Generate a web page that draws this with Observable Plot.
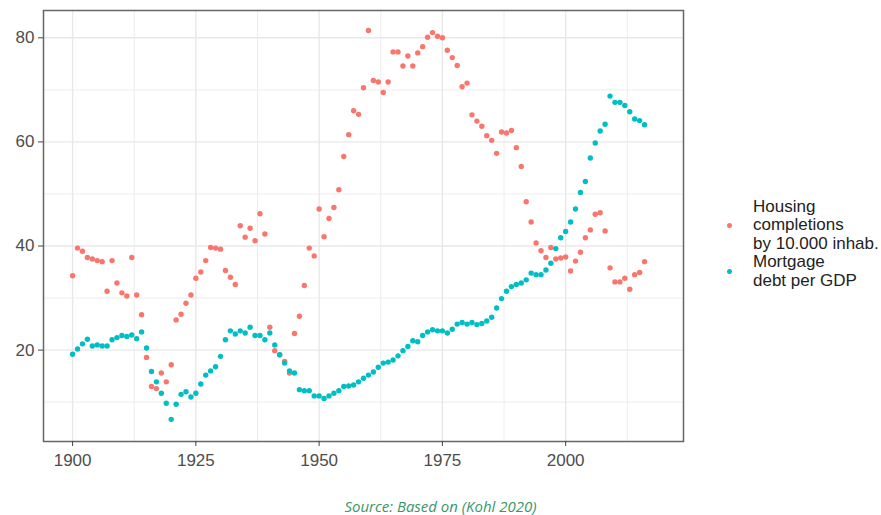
<!DOCTYPE html>
<html>
<head>
<meta charset="utf-8">
<script src="https://cdn.jsdelivr.net/npm/d3@7"></script>
<script src="https://cdn.jsdelivr.net/npm/@observablehq/plot@0.6"></script>
<style>
  html, body { margin: 0; padding: 0; background: #fff; }
  #wrap { position: relative; width: 881px; height: 515px; overflow: hidden; }
  #caption { position: absolute; left: 0; top: 498px; width: 881px; height: 17px; line-height: 17px;
    text-align: center; font-family: "Open Sans", Lato, sans-serif; font-style: italic; font-size: 15px; color: #3a9668; }
  .lg { position: absolute; font-family: "Liberation Sans", Arial, sans-serif; font-size: 17px; color: #222; line-height: 18.5px; white-space: nowrap; }
  .dot { position: absolute; width: 5.4px; height: 5.4px; border-radius: 50%; }
</style>
</head>
<body>
<div id="wrap">
  <div id="chart"></div>
  <div class="dot" style="left:726.6px; top:223px; background:#F8766D"></div>
  <div class="dot" style="left:726.6px; top:269px; background:#00BFC4"></div>
  <div class="lg" style="left:753px; top:197.5px">Housing<br>completions<br>by 10.000 inhab.<br>Mortgage<br>debt per GDP</div>
  <div id="caption">Source: Based on (Kohl 2020)</div>
</div>
<script>
const years = d3.range(1900, 2017);
const housing = [
  34.3, 39.6, 39.0, 37.8, 37.5, 37.2, 37.0, 31.3, 37.2, 32.9,
  31.0, 30.4, 37.8, 30.6, 26.8, 18.6, 13.0, 12.6, 15.6, 13.9,
  17.2, 25.8, 26.9, 29.0, 30.6, 33.8, 35.0, 37.2, 39.7, 39.6,
  39.4, 35.3, 34.0, 32.6, 43.9, 41.7, 43.4, 41.0, 46.2, 42.3,
  24.4, 19.9, 19.1, 17.8, 15.6, 23.2, 26.5, 32.4, 39.6, 38.1,
  47.1, 41.8, 45.3, 47.4, 50.8, 57.2, 61.4, 66.0, 65.3, 70.4,
  81.4, 71.8, 71.5, 69.5, 71.5, 77.3, 77.3, 74.6, 76.5, 74.6,
  77.1, 78.3, 80.1, 81.0, 80.3, 80.0, 77.6, 76.2, 74.7, 70.6,
  71.3, 65.2, 64.0, 63.0, 61.2, 60.3, 57.8, 61.9, 61.7, 62.2,
  58.9, 55.3, 48.5, 44.6, 40.6, 39.1, 37.8, 39.7, 37.5, 37.7,
  37.9, 35.2, 37.1, 38.8, 41.6, 43.1, 46.1, 46.4, 42.9, 35.8,
  33.1, 33.1, 33.8, 31.7, 34.5, 34.9, 37.0
];
const mortgage = [
  19.2, 20.2, 21.2, 22.1, 20.8, 21.0, 20.8, 20.8, 22.0, 22.4,
  22.8, 22.6, 22.9, 22.2, 23.5, 20.4, 15.9, 13.9, 11.7, 9.8,
  6.7, 9.6, 11.5, 12.0, 11.0, 11.7, 13.5, 15.2, 16.0, 16.8,
  18.8, 22.0, 23.7, 23.1, 23.7, 23.3, 24.4, 22.8, 22.8, 22.0,
  23.3, 21.0, 19.1, 17.5, 16.0, 15.6, 12.4, 12.2, 12.2, 11.2,
  11.2, 10.7, 11.2, 11.7, 12.2, 13.0, 13.1, 13.3, 13.9, 14.6,
  15.2, 15.8, 16.7, 17.5, 17.7, 18.1, 18.9, 19.9, 20.7, 21.8,
  21.6, 22.8, 23.5, 23.9, 23.7, 23.7, 23.3, 24.0, 25.0, 25.3,
  25.0, 25.3, 24.9, 25.1, 25.6, 26.3, 28.1, 29.9, 31.3, 32.2,
  32.6, 32.9, 33.5, 34.8, 34.5, 34.5, 35.4, 36.7, 39.5, 41.6,
  42.8, 44.6, 47.1, 50.3, 52.4, 56.9, 59.8, 62.1, 63.4, 68.8,
  67.6, 67.6, 67.0, 65.8, 64.4, 64.1, 63.3
];
const seriesNames = ["Housing completions by 10.000 inhab.", "Mortgage debt per GDP"];
const seriesColors = ["#F8766D", "#00BFC4"];
const xTicks = [1900, 1925, 1950, 1975, 2000];
const xMinor = [1912.5, 1937.5, 1962.5, 1987.5, 2012.5];
const yTicks = [20, 40, 60, 80];
const yMinor = [10, 30, 50, 70];

const data = [
  ...years.map((year, i) => ({year, value: housing[i], series: seriesNames[0]})),
  ...years.map((year, i) => ({year, value: mortgage[i], series: seriesNames[1]}))
];

const chart = Plot.plot({
  width: 881,
  height: 499,
  marginLeft: 43,
  marginRight: 198,
  marginTop: 10,
  marginBottom: 58,
  style: {fontFamily: "Liberation Sans, Arial, sans-serif", fontSize: "17px", background: "white", overflow: "visible"},
  x: {domain: [1894.1, 2023.9]},
  y: {domain: [2.44, 85.25]},
  color: {domain: seriesNames, range: seriesColors},
  marks: [
    Plot.gridX(xMinor, {stroke: "#ebebeb", strokeOpacity: 1, strokeWidth: 0.9}),
    Plot.gridY(yMinor, {stroke: "#ebebeb", strokeOpacity: 1, strokeWidth: 0.9}),
    Plot.gridX(xTicks, {stroke: "#e8e8e8", strokeOpacity: 1, strokeWidth: 1.4}),
    Plot.gridY(yTicks, {stroke: "#e8e8e8", strokeOpacity: 1, strokeWidth: 1.4}),
    Plot.dot(data, {x: "year", y: "value", fill: "series", r: 2.7}),
    Plot.frame({stroke: "#666", strokeWidth: 1.5}),
    Plot.axisX(xTicks, {tickSize: 5, tickPadding: 7, tickFormat: d => String(d), stroke: "#444", fill: "#4d4d4d", label: null}),
    Plot.axisY(yTicks, {tickSize: 5, tickPadding: 4, stroke: "#444", fill: "#4d4d4d", label: null})
  ]
});
document.getElementById("chart").appendChild(chart);
</script>
</body>
</html>
